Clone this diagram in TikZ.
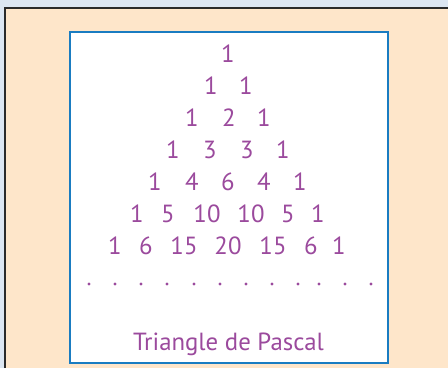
\documentclass[tikz,border=0pt]{standalone}
\usepackage{fontspec}
\setmainfont{PT Sans}
\definecolor{skyback}{HTML}{DCE6F2}
\definecolor{peach}{HTML}{FEE6CA}
\definecolor{frameblue}{HTML}{1A7CC1}
\definecolor{pascalpurple}{HTML}{9B4A9D}
\definecolor{darkframe}{HTML}{2A2A2A}
\begin{document}
\begin{tikzpicture}[x=1pt,y=-1pt,
  num/.style={anchor=base,inner sep=0pt,text=pascalpurple,font=\fontsize{24.8}{25}\selectfont},
  dotmark/.style={fill=pascalpurple,draw=none}]
\useasboundingbox (0,0) rectangle (448,368);
\fill[skyback] (0,0) rectangle (448,368);
\fill[peach] (5,8) rectangle (448,368);
\draw[darkframe,line width=2pt] (5,368) -- (5,8) -- (448,8);
\draw[frameblue,line width=2.8pt,fill=white] (70,32) rectangle (388,363);
% row 1
\node[num] (r1a) at (228,62) {1};
% row 2
\node[num] (r2a) at (211,94) {1};
\node[num] (r2b) at (246,94) {1};
% row 3
\node[num] (r3a) at (192,126) {1};
\node[num] (r3b) at (229,126) {2};
\node[num] (r3c) at (264,126) {1};
% row 4
\node[num] (r4a) at (173,158) {1};
\node[num] (r4b) at (210,158) {3};
\node[num] (r4c) at (247,158) {3};
\node[num] (r4d) at (283,158) {1};
% row 5
\node[num] (r5a) at (155,190) {1};
\node[num] (r5b) at (192,190) {4};
\node[num] (r5c) at (228,190) {6};
\node[num] (r5d) at (264,190) {4};
\node[num] (r5e) at (300,190) {1};
% row 6
\node[num] (r6a) at (137,222) {1};
\node[num] (r6b) at (168,222) {5};
\node[num] (r6c) at (207,222) {10};
\node[num] (r6d) at (251,222) {10};
\node[num] (r6e) at (288,222) {5};
\node[num] (r6f) at (318,222) {1};
% row 7
\node[num] (r7a) at (115,254) {1};
\node[num] (r7b) at (146,254) {6};
\node[num] (r7c) at (184,254) {15};
\node[num] (r7d) at (228,254) {20};
\node[num] (r7e) at (273,254) {15};
\node[num] (r7f) at (311,254) {6};
\node[num] (r7g) at (339,254) {1};
% dots
\foreach \dx in {89,115,141,167,194,220,246,272,298,319,345,371}
  \fill[dotmark] (\dx,284) circle (1.7);
% title
\node[num] (title) at (228.5,350) {Triangle de Pascal};
\end{tikzpicture}
\end{document}
